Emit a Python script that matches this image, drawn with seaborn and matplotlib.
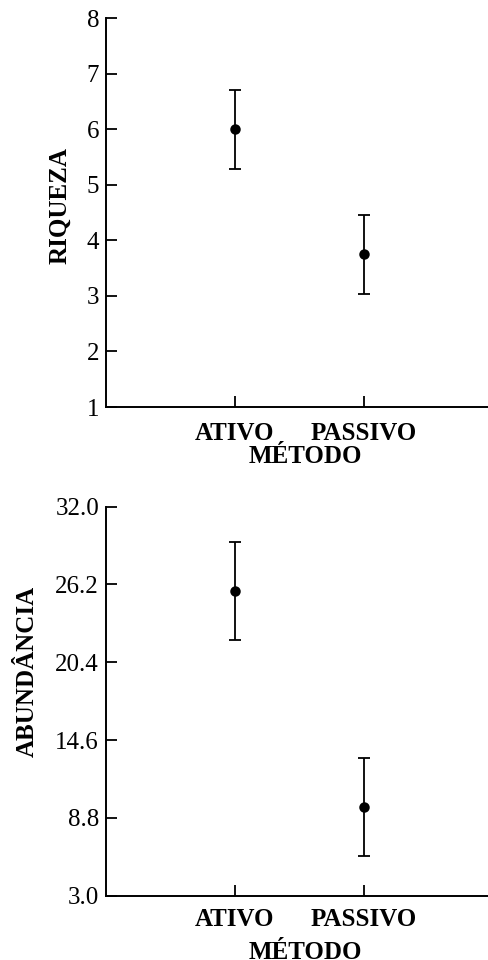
import numpy as np
import pandas as pd
import matplotlib
matplotlib.use('Agg')
import matplotlib.pyplot as plt
import seaborn as sns

# values
metodos = ['ATIVO', 'PASSIVO']
riqueza_media = [6.0, 3.75]
riqueza_erro = [0.71, 0.71]
abund_media = [25.7, 9.6]
abund_erro = [3.65, 3.65]

riqueza_ticks = [1, 2, 3, 4, 5, 6, 7, 8]
abund_ticks = [3.0, 8.8, 14.6, 20.4, 26.2, 32.0]

sns.set_style('ticks')
plt.rcParams['font.family'] = ['Liberation Serif', 'DejaVu Serif']
plt.rcParams['text.color'] = 'black'
plt.rcParams['axes.labelcolor'] = 'black'
plt.rcParams['xtick.color'] = 'black'
plt.rcParams['ytick.color'] = 'black'

fig = plt.figure(figsize=(4.89, 9.6), dpi=100)
ax1 = fig.add_axes([0.2168, 0.576, 0.7832, 0.4052])
ax2 = fig.add_axes([0.2168, 0.067, 0.7832, 0.4052])


def painel(ax, media, erro, ticks, ylabel, fmt, ylab_y, xlab_y, xpad):
    df = pd.DataFrame({'metodo': metodos, 'valor': media})
    sns.pointplot(data=df, x='metodo', y='valor', errorbar=None, linestyle='none',
                  color='black', markers='o', markersize=5.5, ax=ax)
    ax.errorbar(np.arange(len(metodos)), media, yerr=erro, fmt='none',
                ecolor='black', elinewidth=1.3, capsize=4.5, capthick=1.3)
    ax.set_xlim(-1, 1.97)
    ax.set_ylim(ticks[0], ticks[-1])
    ax.set_yticks(ticks)
    ax.set_yticklabels([fmt % t for t in ticks], fontsize=18)
    ax.set_xticks(range(len(metodos)))
    ax.set_xticklabels(metodos, fontsize=18, fontweight='bold')
    ax.tick_params(axis='y', direction='in', length=8, width=1.3, pad=5)
    ax.tick_params(axis='x', direction='in', length=8, width=1.3, pad=xpad)
    for s in ['top', 'right']:
        ax.spines[s].set_visible(False)
    for s in ['left', 'bottom']:
        ax.spines[s].set_linewidth(1.4)
        ax.spines[s].set_color('black')
    ax.set_ylabel(ylabel, fontsize=18, fontweight='bold', va='center')
    ax.yaxis.set_label_coords(ylab_y[0], ylab_y[1])
    ax.set_xlabel('MÉTODO', fontsize=18, fontweight='bold', va='center')
    ax.xaxis.set_label_coords(0.52, xlab_y)


painel(ax1, riqueza_media, riqueza_erro, riqueza_ticks, 'RIQUEZA', '%d',
       (-0.12, 0.517), -0.128, 11)
painel(ax2, abund_media, abund_erro, abund_ticks, 'ABUNDÂNCIA', '%.1f',
       (-0.206, 0.577), -0.145, 9)

fig.savefig('out.png', dpi=100)
